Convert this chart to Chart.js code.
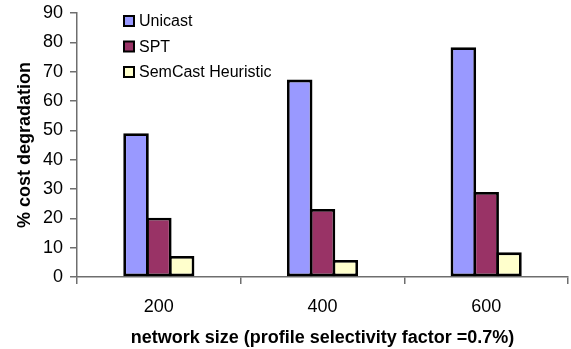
<!DOCTYPE html>
<html>
<head>
<meta charset="utf-8">
<script src="https://cdn.jsdelivr.net/npm/chart.js@4/dist/chart.umd.min.js"></script>
<style>
  html, body { margin: 0; padding: 0; background: #fff; }
  #wrap { width: 571px; height: 349px; }
</style>
</head>
<body>
<div id="wrap"><canvas id="grafico" width="571" height="349"></canvas></div>
<script>
// datos
const categorias = ['200', '400', '600'];
const unicast = [49, 67.3, 78.3];
const spt = [20.2, 23.2, 29];
const semcast = [7.2, 5.8, 8.4];
const ticksY = [0, 10, 20, 30, 40, 50, 60, 70, 80, 90];

const fuente = "'Liberation Sans', Arial, sans-serif";
const gris = '#6e6e6e';

// leyenda dibujada dentro del area del grafico
const leyendaInterna = {
    id: 'leyendaInterna',
    afterDraw(chart) {
        const ctx = chart.ctx;
        ctx.save();
        ctx.font = '16px ' + fuente;
        ctx.textBaseline = 'middle';
        chart.data.datasets.forEach((ds, i) => {
            const y = 21 + i * 25.5;
            ctx.fillStyle = '#000';
            ctx.fillRect(123, y - 6, 12, 12);
            ctx.fillStyle = ds.backgroundColor;
            ctx.fillRect(125, y - 4, 8, 8);
            ctx.fillStyle = '#000';
            ctx.fillText(ds.label, 139, y + 1);
        });
        ctx.restore();
    }
};

const comun = {
    borderColor: '#000',
    borderWidth: 2.8,
    borderSkipped: false,
    barPercentage: 1.12,
    categoryPercentage: 0.418
};

new Chart(document.getElementById('grafico').getContext('2d'), {
    type: 'bar',
    data: {
        labels: categorias,
        datasets: [
            Object.assign({ label: 'Unicast', data: unicast, backgroundColor: '#9999ff' }, comun),
            Object.assign({ label: 'SPT', data: spt, backgroundColor: '#993366' }, comun),
            Object.assign({ label: 'SemCast Heuristic', data: semcast, backgroundColor: '#ffffcc' }, comun)
        ]
    },
    options: {
        responsive: false,
        animation: false,
        devicePixelRatio: 1,
        layout: { padding: { left: 0, right: 3, top: 13, bottom: 0 } },
        plugins: {
            legend: { display: false },
            tooltip: { enabled: false }
        },
        scales: {
            x: {
                offset: true,
                grid: { offset: true, drawOnChartArea: false, drawTicks: true, tickLength: 7, color: gris, lineWidth: 1.5 },
                border: { display: true, color: gris, width: 1.5 },
                ticks: { color: '#000', font: { family: fuente, size: 18 }, padding: 12 },
                title: {
                    display: true,
                    text: 'network size (profile selectivity factor =0.7%)',
                    color: '#000',
                    font: { family: fuente, size: 18, weight: 'bold' },
                    padding: { top: 0, bottom: 0 }
                },
                afterFit(scale) {
                    scale.height = 72;
                    scale.paddingLeft = 0;
                    scale.paddingRight = 0;
                }
            },
            y: {
                min: 0,
                max: 90,
                afterBuildTicks(scale) { scale.ticks = ticksY.map(v => ({ value: v })); },
                grid: { drawOnChartArea: false, drawTicks: true, tickLength: 7, color: gris, lineWidth: 1.5 },
                border: { display: true, color: gris, width: 1.5 },
                ticks: { color: '#000', font: { family: fuente, size: 18 }, padding: 7 },
                title: {
                    display: true,
                    text: '% cost degradation',
                    color: '#000',
                    font: { family: fuente, size: 18, weight: 'bold' },
                    padding: { top: 14, bottom: 0 }
                },
                afterFit(scale) {
                    scale.width = 77;
                    scale.paddingTop = 0;
                    scale.paddingBottom = 0;
                }
            }
        }
    },
    plugins: [leyendaInterna]
});
</script>
</body>
</html>
